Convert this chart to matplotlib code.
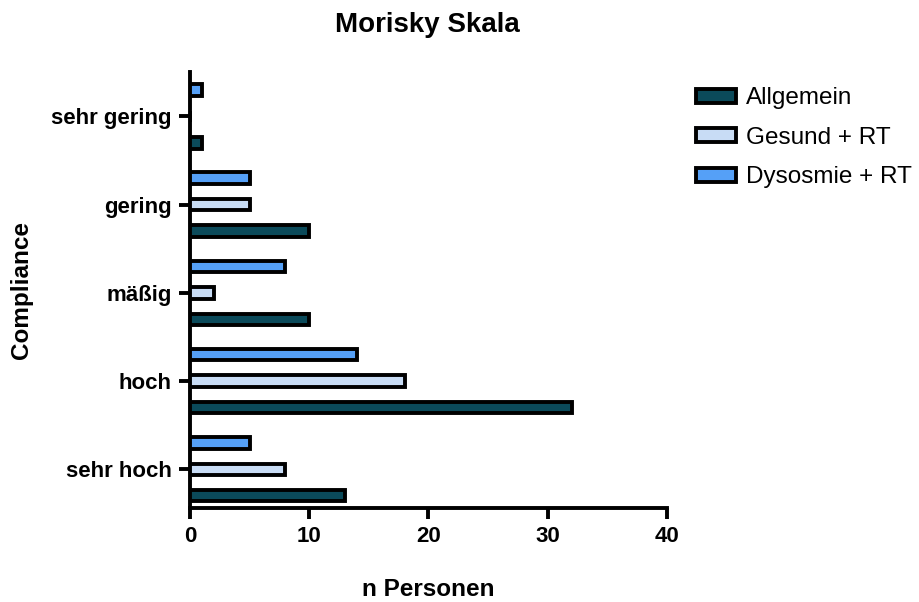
import matplotlib
matplotlib.use("Agg")
import matplotlib.pyplot as plt
import numpy as np

plt.rcParams['font.family'] = ['Liberation Sans', 'DejaVu Sans']

categories = ["sehr hoch", "hoch", "mäßig", "gering", "sehr gering"]
series_names = ["Allgemein", "Gesund + RT", "Dysosmie + RT"]
allgemein = [13, 32, 10, 10, 1]
gesund_rt = [8, 18, 2, 5, 0]
dysosmie_rt = [5, 14, 8, 5, 1]
colors = ["#0b4a5a", "#c8dcf5", "#55a0f7"]
x_ticks = [0, 10, 20, 30, 40]

fig = plt.figure(figsize=(9.19, 6.02), dpi=100)
ax = fig.add_axes([0.2067, 0.156, 0.519, 0.724])

y = np.arange(len(categories))
offsets = [-0.3, 0.0, 0.3]
bar_h = 0.13
handles = []
for vals, off, col, name in zip([allgemein, gesund_rt, dysosmie_rt], offsets, colors, series_names):
    bars = ax.barh(y + off, vals, height=bar_h, color=col, edgecolor="black",
                   linewidth=2.8, label=name, zorder=3)
    handles.append(bars)

ax.set_xlim(0, 40)
ax.set_ylim(-0.44, 4.5)
ax.set_xticks(x_ticks)
ax.set_yticks(y)
ax.set_yticklabels(categories)

for s in ["top", "right"]:
    ax.spines[s].set_visible(False)
for s in ["left", "bottom"]:
    ax.spines[s].set_linewidth(2.8)
ax.tick_params(axis="both", width=2.8, length=8, labelsize=16, pad=5)
for lab in ax.get_xticklabels() + ax.get_yticklabels():
    lab.set_fontweight("bold")

ax.set_xlabel("n Personen", fontsize=17.5, fontweight="bold", labelpad=22)
ax.set_ylabel("Compliance", fontsize=17.5, fontweight="bold")
ax.yaxis.set_label_coords(-0.33, 0.5)
fig.suptitle("Morisky Skala", x=0.465, y=0.98, fontsize=20, fontweight="bold")

leg = fig.legend(handles=handles, loc="upper left", bbox_to_anchor=(0.757, 0.855),
                 frameon=False, fontsize=17.5, handlelength=1.65, handleheight=0.5,
                 labelspacing=0.72, handletextpad=0.4, borderpad=0, borderaxespad=0)

fig.savefig("out.png", dpi=100)
